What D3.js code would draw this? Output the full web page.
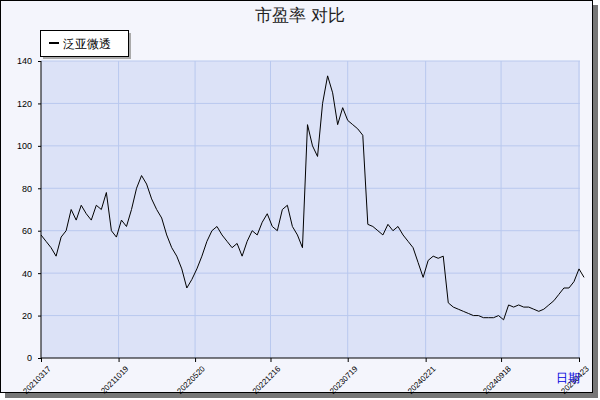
<!DOCTYPE html>
<html><head><meta charset="utf-8">
<script src="https://cdn.jsdelivr.net/npm/d3@7"></script>
<style>body{margin:0;background:#fff}</style>
</head><body><svg id="c"></svg>
<script>
const seriesName = "泛亚微透";
const startDate = "2021-03-17";
const stepDays = 14;
const peValues = [58,55,52,48,57,60,70,65,72,68,65,72,70,78,60,57,65,62,70,80,86,82,75,70,66,58,52,48,42,33,37,42,48,55,60,62,58,55,52,54,48,55,60,58,64,68,62,60,70,72,62,58,52,110,100,95,120,133,125,110,118,112,110,108,105,63,62,60,58,63,60,62,58,55,52,45,38,46,48,47,48,26,24,23,22,21,20,20,19,19,19,20,18,25,24,25,24,24,23,22,23,25,27,30,33,33,36,42,38];
const tickLabels = ["20210317","20211019","20220520","20221216","20230719","20240221","20240918","20250423"];
const yTicks = [0,20,40,60,80,100,120,140];

const W = 600, H = 400, m = {l:41, r:580, t:61, b:358};
const parse = d3.timeParse("%Y%m%d");
const t0 = d3.timeParse("%Y-%m-%d")(startDate);
const data = peValues.map((v,i) => ({d: d3.timeDay.offset(t0, i*stepDays), v}));
const ticks = tickLabels.map(parse);

const svg = d3.select("#c").attr("width", W).attr("height", H).style("font-family","DejaVu Sans, sans-serif");
svg.append("rect").attr("x",5).attr("y",5).attr("width",593).attr("height",393).attr("fill","#777");
svg.append("rect").attr("x",0.5).attr("y",0.5).attr("width",592).attr("height",392).attr("fill","#f4f5fc").attr("stroke","#000");

const x = d3.scaleTime().domain([ticks[0], ticks[ticks.length-1]]).range([m.l, m.r-1]);
const y = d3.scaleLinear().domain([0,140]).range([m.b, m.t]);

svg.append("rect").attr("x",m.l).attr("y",m.t).attr("width",m.r-m.l).attr("height",m.b-m.t).attr("fill","#dce2f7");
svg.append("g").selectAll("line").data(yTicks.slice(1)).join("line")
  .attr("x1",m.l).attr("x2",m.r).attr("y1",d=>y(d)).attr("y2",d=>y(d)).attr("stroke","#b9c8ee");
svg.append("g").selectAll("line").data(ticks.slice(1)).join("line")
  .attr("x1",d=>x(d)).attr("x2",d=>x(d)).attr("y1",m.t).attr("y2",m.b).attr("stroke","#b9c8ee");

const yAxis = svg.append("g").attr("transform",`translate(${m.l},0)`)
  .call(d3.axisLeft(y).tickValues(yTicks).tickSize(3).tickPadding(6));
const xAxis = svg.append("g").attr("transform",`translate(0,${m.b})`)
  .call(d3.axisBottom(x).tickValues(ticks).tickFormat((d,i)=>tickLabels[i]).tickSize(4));
xAxis.selectAll("text").attr("font-size",8).attr("transform","rotate(-45)").attr("text-anchor","end").attr("dx","-1").attr("dy","8");
[yAxis,xAxis].forEach(a=>{a.selectAll("text").attr("fill","#000");a.select(".domain").attr("stroke","#000");});
yAxis.selectAll("text").attr("font-size",9);
yAxis.select(".domain").attr("d",`M0,${m.t}V${m.b}`);
xAxis.select(".domain").attr("d",`M${m.l},0H${m.r}`);

svg.append("path").datum(data).attr("fill","none").attr("stroke","#000").attr("stroke-width",1)
  .attr("d", d3.line().x(d=>x(d.d)).y(d=>y(d.v)));

svg.append("text").attr("x",300).attr("y",21).attr("text-anchor","middle").attr("font-size",17).attr("fill","#222").text("市盈率  对比");
svg.append("rect").attr("x",43).attr("y",33).attr("width",88).attr("height",26).attr("fill","#aaa");
svg.append("rect").attr("x",40.5).attr("y",30.5).attr("width",88).attr("height",26).attr("fill","#fff").attr("stroke","#000");
svg.append("line").attr("x1",49).attr("x2",59).attr("y1",43).attr("y2",43).attr("stroke","#000").attr("stroke-width",2);
svg.append("text").attr("x",63).attr("y",48).attr("font-size",12).text(seriesName);
svg.append("text").attr("x",556).attr("y",382).attr("font-size",12).attr("fill","#0000dd").text("日期");
</script></body></html>
